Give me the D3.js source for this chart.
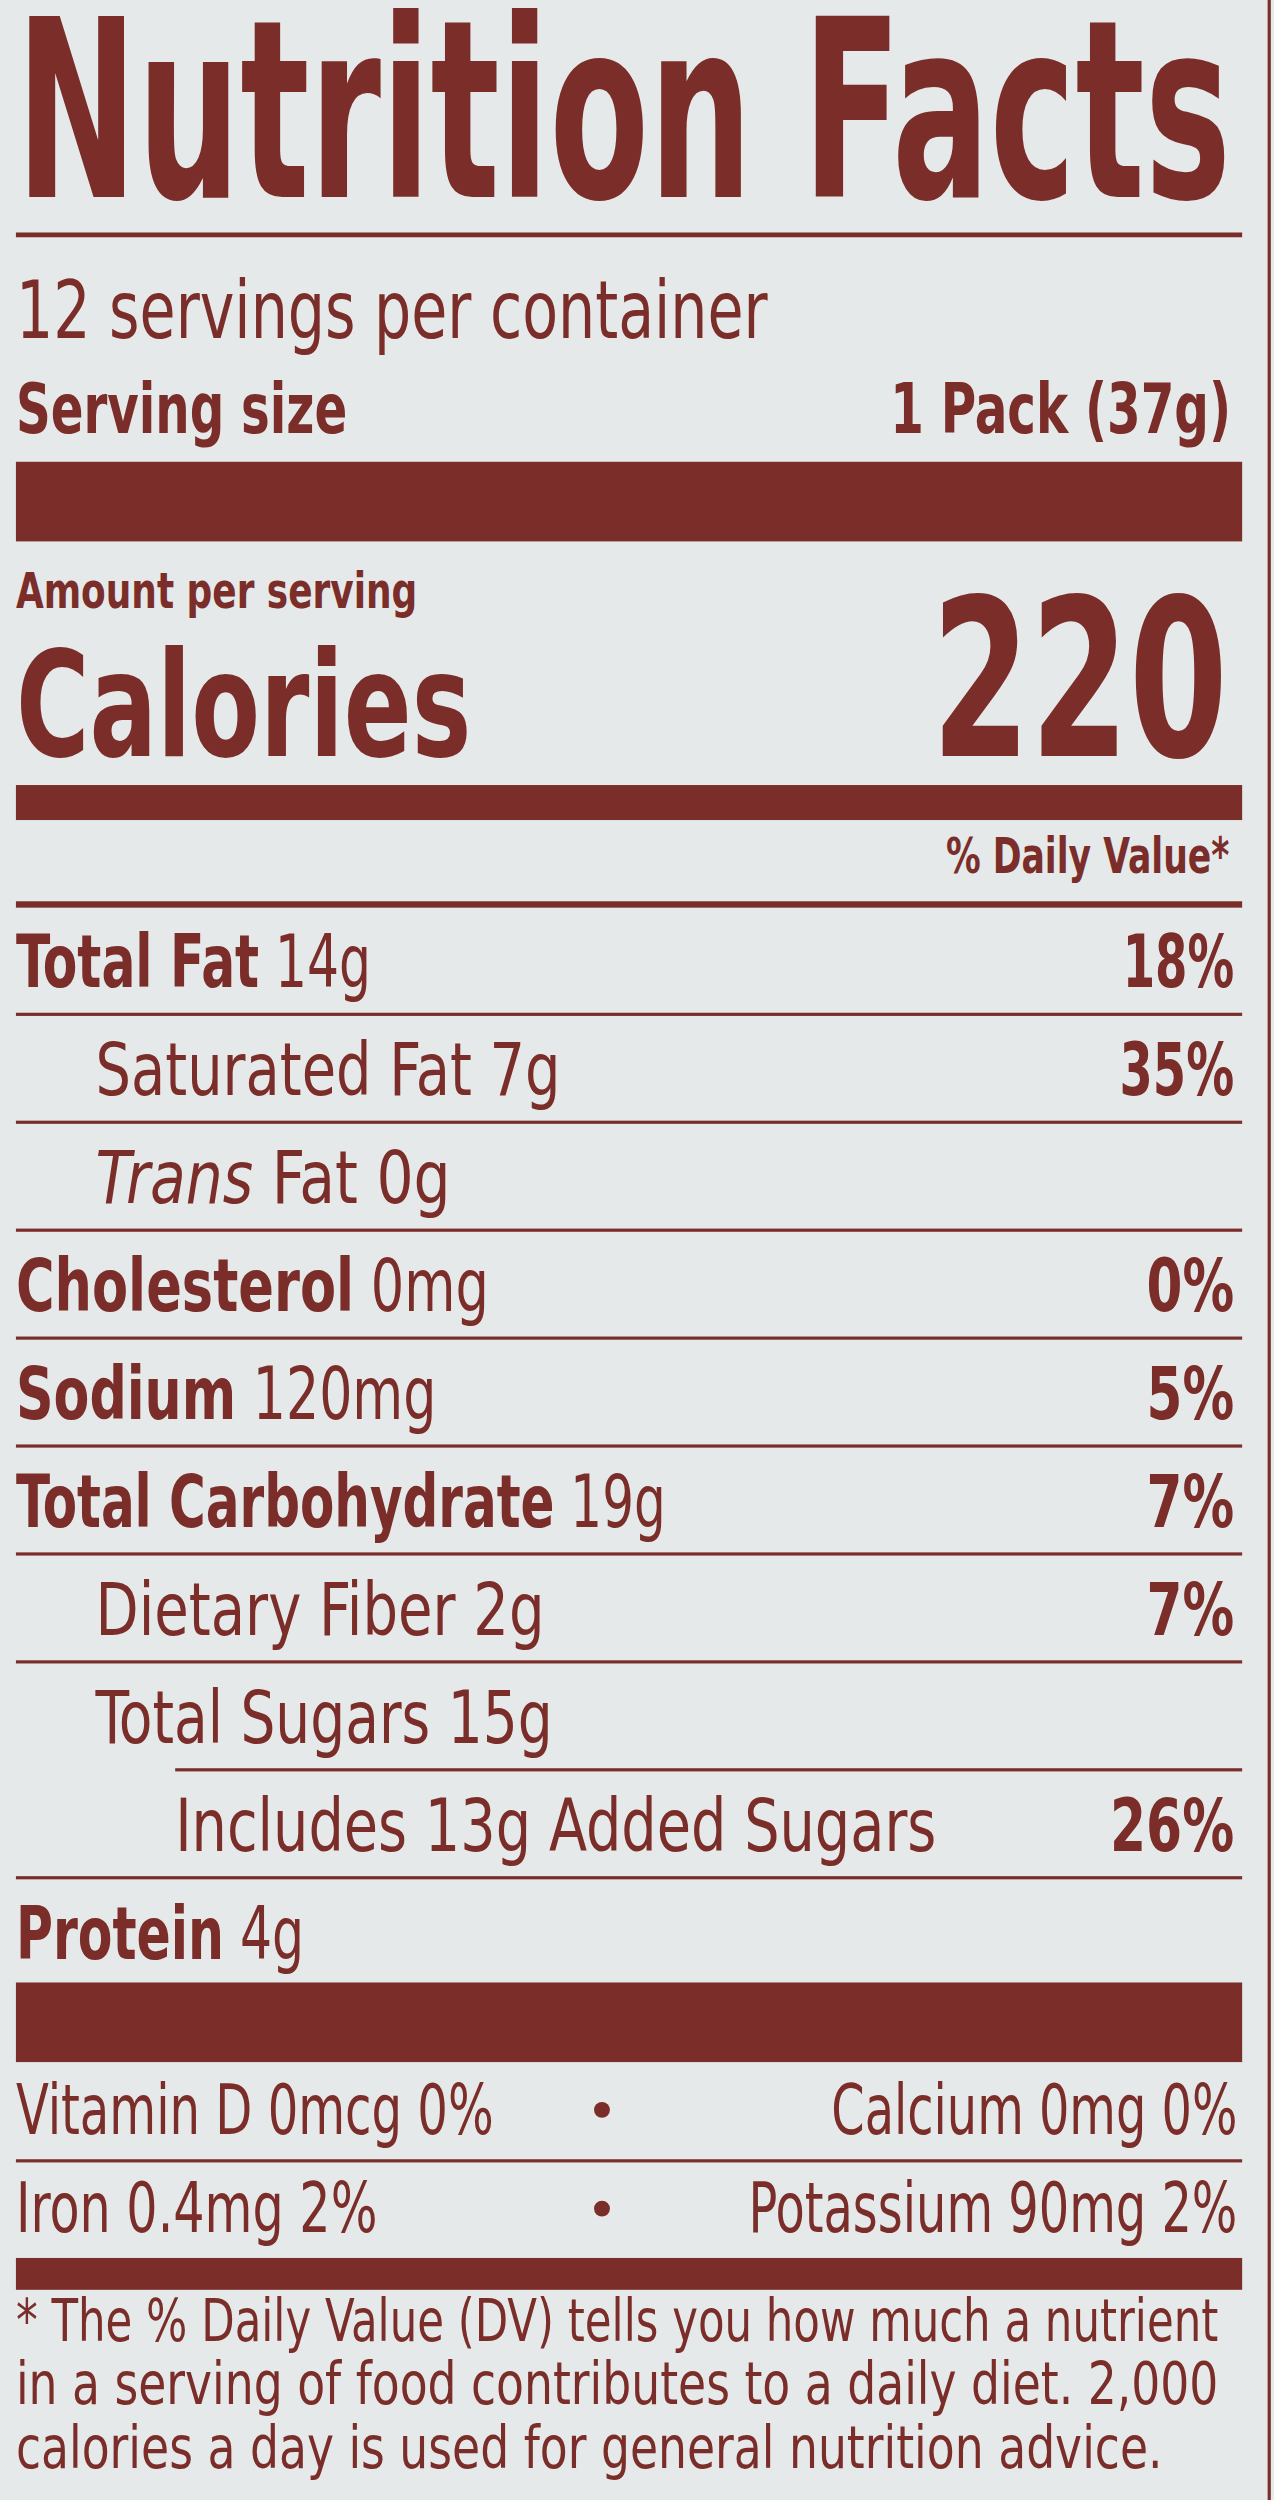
<!DOCTYPE html>
<html><head><meta charset="utf-8">
<script src="https://cdn.jsdelivr.net/npm/d3@7/dist/d3.min.js"></script>
<style>body{margin:0;background:#e6e9ea}svg{display:block}</style>
</head><body>
<script>
// label data
const servingsText = "12 servings per container";
const servingSize = "1 Pack (37g)";
const calories = "220";
const nutrients = [
  {name: "Total Fat", amount: "14g", dv: "18%", indent: 0, bold: true},
  {name: "Saturated Fat", amount: "7g", dv: "35%", indent: 1},
  {name: "Trans", amount: "Fat 0g", dv: "", indent: 1, italic: true},
  {name: "Cholesterol", amount: "0mg", dv: "0%", indent: 0, bold: true},
  {name: "Sodium", amount: "120mg", dv: "5%", indent: 0, bold: true},
  {name: "Total Carbohydrate", amount: "19g", dv: "7%", indent: 0, bold: true},
  {name: "Dietary Fiber", amount: "2g", dv: "7%", indent: 1},
  {name: "Total Sugars", amount: "15g", dv: "", indent: 1},
  {name: "Includes 13g Added Sugars", amount: "", dv: "26%", indent: 2},
  {name: "Protein", amount: "4g", dv: "", indent: 0, bold: true}
];
const vitamins = [
  ["Vitamin D 0mcg 0%", "Calcium 0mg 0%"],
  ["Iron 0.4mg 2%", "Potassium 90mg 2%"]
];
const footnote = [
  "* The % Daily Value (DV) tells you how much a nutrient",
  "in a serving of food contributes to a daily diet. 2,000",
  "calories a day is used for general nutrition advice."
];

// layout: where each row's text ends (label units), condensed font fallback
const rowEnds = [233, 352, 283, 307, 274, 418, 342, 347, 588, 191];
const dvWidths = [70, 72, 55, 55, 55, 55, 55, 0, 78, 0];
const vitWidths = [[300, 255], [227, 307]];

const C = "#7b2e29", F = "'Liberation Sans Narrow','DejaVu Sans Condensed',sans-serif";
const L = 10, R = 777;
const svg = d3.select("body").append("svg")
  .attr("width", 1274).attr("height", 2500).attr("viewBox", "0 0 800 1570")
  .attr("preserveAspectRatio", "none").style("font-family", F);
svg.append("rect").attr("width", 800).attr("height", 1570).attr("fill", "#e6e9ea");
svg.append("line").attr("x1", 797).attr("x2", 797).attr("y1", 0).attr("y2", 1570).attr("stroke", C).attr("stroke-width", 2);

function txt(x, y, s, size, opt = {}) {
  const t = svg.append("text").attr("x", x).attr("y", y).attr("fill", C)
    .attr("font-size", size).attr("font-weight", opt.bold ? 700 : 400)
    .attr("text-anchor", opt.anchor || "start").text(s);
  if (opt.len) t.attr("textLength", opt.len).attr("lengthAdjust", "spacingAndGlyphs");
  return t;
}
function bar(y, h, x1 = L) {
  svg.append("rect").attr("x", x1).attr("y", y).attr("width", R - x1 + 3).attr("height", h).attr("fill", C);
}

txt(L, 124, "Nutrition Facts", 156, {bold: true, len: R - L - 4});
bar(146, 3);
txt(L, 212, servingsText, 50, {len: 472});
txt(L, 272, "Serving size", 44, {bold: true, len: 208});
txt(R - 4, 272, servingSize, 44, {bold: true, anchor: "end", len: 214});
bar(290, 50);
txt(L, 382, "Amount per serving", 31, {bold: true, len: 252});
txt(L, 475, "Calories", 92, {bold: true, len: 286});
txt(R - 6, 475, calories, 138, {bold: true, anchor: "end", len: 186});
bar(493, 22);
txt(R - 5, 548, "% Daily Value*", 31, {bold: true, anchor: "end", len: 178});
bar(566, 4);

const y = d3.scaleLinear().domain([0, nutrients.length - 1]).range([620, 1230]);
const indentX = d3.scaleOrdinal().domain([0, 1, 2]).range([L, 60, 110]);
nutrients.forEach((d, i) => {
  const x0 = indentX(d.indent);
  const t = svg.append("text").attr("x", x0).attr("y", y(i))
    .attr("fill", C).attr("font-size", 46)
    .attr("textLength", rowEnds[i] - x0).attr("lengthAdjust", "spacingAndGlyphs");
  t.append("tspan").attr("font-weight", d.bold ? 700 : 400)
    .attr("font-style", d.italic ? "italic" : "normal").text(d.name);
  if (d.amount) t.append("tspan").text((d.bold ? "  " : " ") + d.amount);
  if (d.dv) txt(R - 2, y(i), d.dv, 46, {bold: true, anchor: "end", len: dvWidths[i]});
  if (i < nutrients.length - 1) {
    const x1 = nutrients[i + 1].indent === 2 ? 110 : L;
    bar(y(i) + 16, 2, x1);
  }
});
bar(1245, 50);
const vy = d3.scaleLinear().domain([0, 1]).range([1340, 1402]);
vitamins.forEach((v, i) => {
  txt(L, vy(i), v[0], 44, {len: vitWidths[i][0]});
  svg.append("circle").attr("cx", 378).attr("cy", vy(i) - 15).attr("r", 5).attr("fill", C);
  txt(R, vy(i), v[1], 44, {anchor: "end", len: vitWidths[i][1]});
});
bar(1356, 2);
bar(1418, 20);
footnote.forEach((s, i) => txt(L, 1470 + i * 40, s, 37, {len: [755, 755, 720][i]}));
</script>
</body></html>
